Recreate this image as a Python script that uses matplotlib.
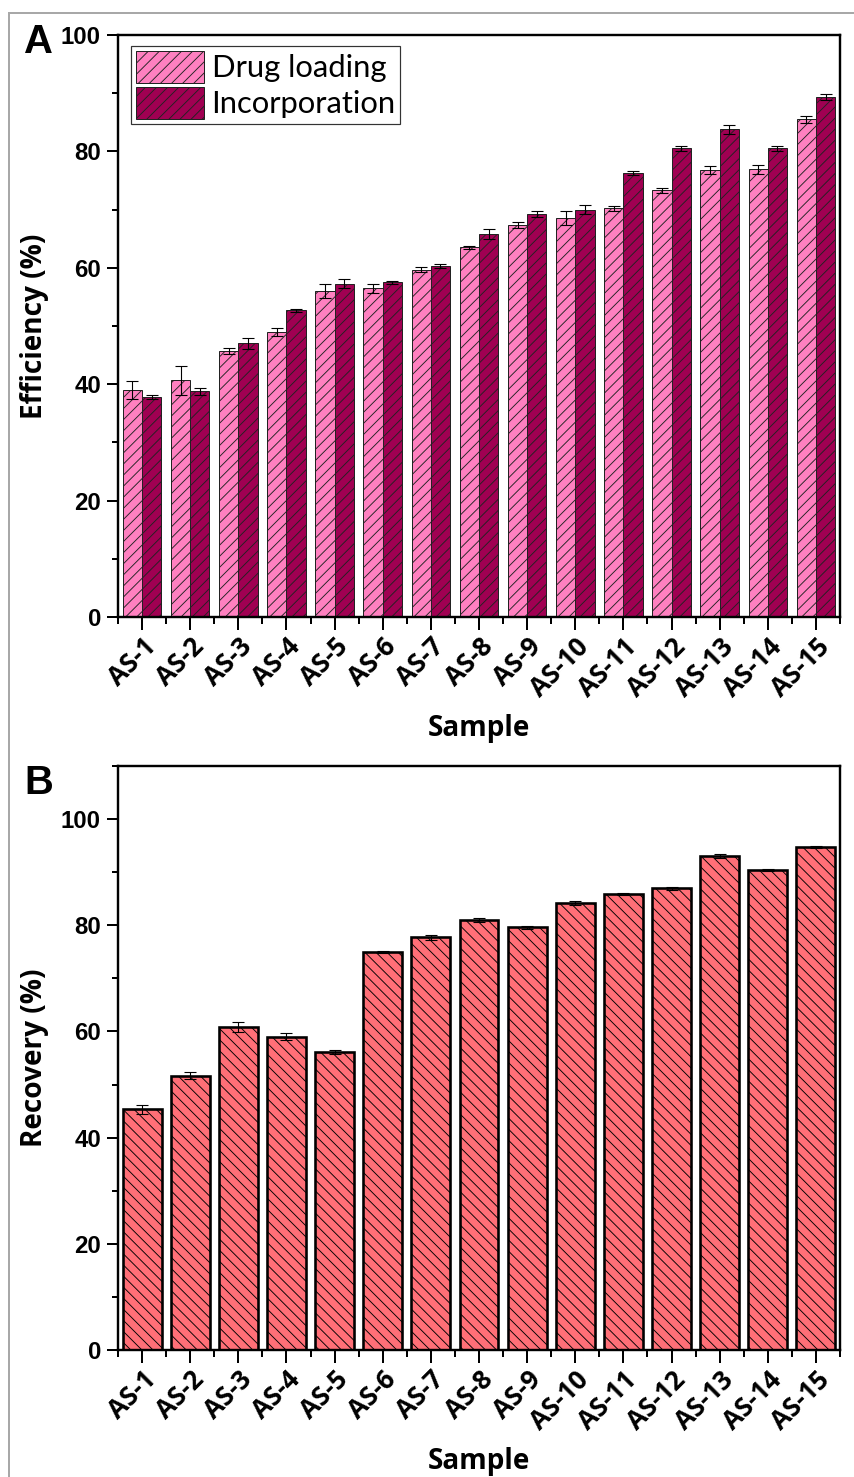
import numpy as np
import matplotlib
matplotlib.use("Agg")
import matplotlib.pyplot as plt
from matplotlib.ticker import FixedLocator, MultipleLocator
from matplotlib.patches import Rectangle
from matplotlib.font_manager import FontProperties

# ---------------- data ----------------
samples = ["AS-1", "AS-2", "AS-3", "AS-4", "AS-5", "AS-6", "AS-7", "AS-8",
           "AS-9", "AS-10", "AS-11", "AS-12", "AS-13", "AS-14", "AS-15"]
drug_loading = [39.0, 40.7, 45.7, 49.0, 56.0, 56.5, 59.7, 63.5, 67.3, 68.6,
                70.2, 73.3, 76.8, 76.9, 85.5]
drug_loading_err = [1.5, 2.5, 0.5, 0.7, 1.2, 0.8, 0.5, 0.2, 0.5, 1.2,
                    0.4, 0.4, 0.7, 0.8, 0.6]
incorporation = [37.8, 38.8, 47.0, 52.7, 57.3, 57.5, 60.3, 65.8, 69.3, 70.0,
                 76.3, 80.5, 83.8, 80.5, 89.3]
incorporation_err = [0.4, 0.6, 1.0, 0.3, 0.8, 0.3, 0.3, 0.9, 0.5, 0.8,
                     0.3, 0.5, 0.8, 0.5, 0.5]
recovery = [45.3, 51.7, 60.8, 59.0, 56.2, 74.9, 77.7, 81.0, 79.6, 84.2,
            85.9, 87.0, 93.0, 90.4, 94.7]
recovery_err = [0.8, 0.7, 0.9, 0.7, 0.4, 0.2, 0.4, 0.3, 0.3, 0.3,
                0.2, 0.3, 0.4, 0.2, 0.2]

# ---------------- styling ----------------
DPI = 133
W, H = 854, 1477


def pt(px):
    return px * 72.0 / DPI


plt.rcParams["hatch.linewidth"] = pt(0.9)
plt.rcParams["hatch.color"] = "black"

PINK = "#FF80C0"
WINE = "#A00052"
SALMON = "#FF6F77"

ytick_fp = FontProperties(family="Liberation Sans", weight="bold", size=pt(24))
xtick_font = dict(family="Open Sans", weight="bold", size=pt(26))
label_font = dict(family="Open Sans", weight="bold", size=pt(28))

fig = plt.figure(figsize=(W / DPI, H / DPI), dpi=DPI)

# outer grey frame
fig.add_artist(Rectangle((8.5 / W, -0.1), 1.2, 1 - 12.5 / H + 0.1,
                         transform=fig.transFigure, fill=False,
                         edgecolor="#a8a8a8", lw=pt(2), clip_on=False))

axA = fig.add_axes([118 / W, 1 - 617 / H, 722 / W, 582 / H])
axB = fig.add_axes([118 / W, 1 - 1350 / H, 722 / W, 584 / H])

x = np.arange(1, len(samples) + 1)

# ---------------- panel A ----------------
bw = 0.4
axA.bar(x - bw / 2, drug_loading, bw, color=PINK, edgecolor="#222222",
        linewidth=pt(1.0), hatch="////", label="Drug loading", zorder=2)
axA.bar(x + bw / 2, incorporation, bw, color=WINE, edgecolor="#222222",
        linewidth=pt(1.0), hatch="////", label="Incorporation", zorder=2)
axA.errorbar(x - bw / 2, drug_loading, yerr=drug_loading_err, fmt="none",
             ecolor="black", elinewidth=pt(1.1), capsize=pt(6),
             capthick=pt(1.1), zorder=3)
axA.errorbar(x + bw / 2, incorporation, yerr=incorporation_err, fmt="none",
             ecolor="black", elinewidth=pt(1.1), capsize=pt(6),
             capthick=pt(1.1), zorder=3)
axA.set_ylim(0, 100)
axA.set_ylabel("Efficiency (%)", labelpad=pt(12), **label_font)
leg = axA.legend(loc="upper left", bbox_to_anchor=(13 / 722, 1 - 11 / 582),
                 frameon=True, fancybox=False, edgecolor="black",
                 prop=dict(family="Lato", size=pt(31)),
                 handlelength=2.2, handleheight=1.25, labelspacing=0.1,
                 handletextpad=0.25, borderpad=0.15, borderaxespad=0)
leg.get_frame().set_linewidth(pt(1.2))
axA.text(-0.13, 1 + 12 / 582, "A", transform=axA.transAxes, ha="left", va="top",
         family="Liberation Sans", weight="bold", size=pt(40))

# ---------------- panel B ----------------
axB.bar(x, recovery, 0.81, color=SALMON, edgecolor="black",
        linewidth=pt(2.6), hatch="\\\\\\\\", zorder=2)
axB.errorbar(x, recovery, yerr=recovery_err, fmt="none", ecolor="black",
             elinewidth=pt(1.1), capsize=pt(6), capthick=pt(1.1), zorder=3)
axB.set_ylim(0, 110)
axB.set_ylabel("Recovery (%)", labelpad=pt(12), **label_font)
axB.text(-0.13, 1 + 2 / 584, "B", transform=axB.transAxes, ha="left", va="top",
         family="Liberation Sans", weight="bold", size=pt(40))

# ---------------- common axis styling ----------------
for ax in (axA, axB):
    ax.set_xlim(0.5, len(samples) + 0.5)
    ax.set_xticks(x)
    ax.set_xticklabels(samples, rotation=45, ha="right", va="top",
                       rotation_mode="anchor", **xtick_font)
    ax.xaxis.set_minor_locator(FixedLocator(np.arange(0.5, len(samples) + 1, 1)))
    ax.yaxis.set_major_locator(MultipleLocator(20))
    ax.yaxis.set_minor_locator(MultipleLocator(10))
    for lab in ax.get_yticklabels():
        lab.set_fontproperties(ytick_fp)
    ax.tick_params(axis="both", which="major", direction="out",
                   length=pt(11), width=pt(2), pad=pt(6))
    ax.tick_params(axis="both", which="minor", direction="out",
                   length=pt(6), width=pt(2))
    ax.tick_params(axis="x", which="major", pad=pt(3), length=pt(13))
    ax.tick_params(axis="x", which="minor", length=pt(7))
    for s in ax.spines.values():
        s.set_linewidth(pt(2.4))
    ax.set_xlabel("Sample", labelpad=pt(12), **label_font)

fig.savefig("out.png", dpi=DPI)
